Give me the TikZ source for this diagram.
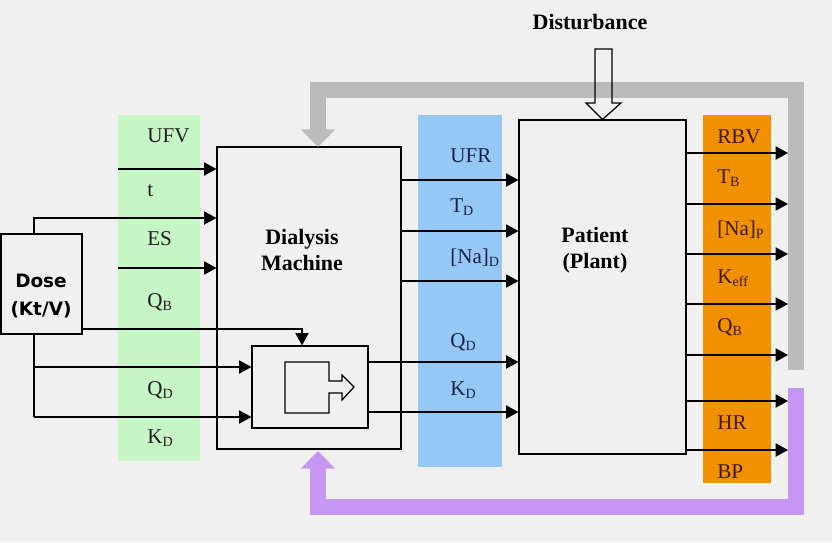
\documentclass[tikz,border=0pt]{standalone}
\usepackage{fontspec}
\setmainfont{Liberation Serif}
\newfontfamily\dosefont{DejaVu Sans}
\usepackage{tikz,xcolor}
\usetikzlibrary{calc}
\usetikzlibrary{arrows.meta}

\definecolor{bgcol}{HTML}{F0F0F0}
\definecolor{greenband}{HTML}{C6F5C6}
\definecolor{blueband}{HTML}{96C8F5}
\definecolor{orangeband}{HTML}{F29100}
\definecolor{graybar}{HTML}{BBBBBB}
\definecolor{purplebar}{HTML}{C597F2}
\definecolor{greentext}{HTML}{1E1E1E}
\definecolor{bluetext}{HTML}{17224A}
\definecolor{orangetext}{HTML}{401800}

% lowered subscript
\newcommand{\lsub}[1]{\raisebox{-2pt}{\fontsize{8}{9}\selectfont #1}}

\begin{document}
\begin{tikzpicture}[x=0.02cm, y=-0.02cm]
	% Define styles
	\tikzstyle{box}=[draw, line width=0.7pt, fill=bgcol, inner sep=0pt]
	\tikzstyle{band}=[inner sep=0pt]
	\tikzstyle{sig}=[line width=0.7pt, -{Triangle[length=7pt,width=7.5pt]}]
	\tikzstyle{feedback}=[line width=9pt, line join=miter, -{Triangle[length=10pt,width=19pt]}]
	\tikzstyle{lbl}=[anchor=base west, inner sep=0pt, font=\fontsize{12}{14}\selectfont]
	\tikzstyle{title}=[align=center, inner sep=0pt, font=\fontsize{12.5}{15}\selectfont\bfseries]
	
	\fill[bgcol] (0,0) rectangle (832,542);
	\useasboundingbox (0,0) rectangle (832,542);
	
	% coloured bands
	\node[band, fill=greenband, minimum width=1.64cm, minimum height=6.92cm] (inband) at (159,288) {};
	\node[band, fill=blueband, minimum width=1.68cm, minimum height=7.04cm] (midband) at (460,291) {};
	\node[band, fill=orangeband, minimum width=1.36cm, minimum height=7.36cm] (outband) at (737,299) {};
	
	% blocks
	\node[box, minimum width=3.68cm, minimum height=6.04cm] (machine) at (309,298) {};
	\node[box, minimum width=3.34cm, minimum height=6.68cm] (patient) at (602.5,287) {};
	\node[box, minimum width=1.62cm, minimum height=2cm] (dose) at (41.5,284) {};
	\node[box, minimum width=2.32cm, minimum height=1.64cm] (valve) at (310,387) {};
	
	\node[title] (machinetxt) at (302,250) {Dialysis\\Machine};
	\node[title] (patienttxt) at (595,250) {Patient\\(Plant)};
	\node[title] (disttxt) at (590,22) {Disturbance};
	\node[align=center, inner sep=0pt, font=\dosefont\bfseries\fontsize{10.5}{15.5}\selectfont] (dosetxt) at (41,296) {Dose\\(Kt/V)};
	
	% feedback loops
	\coordinate (gstart) at (796,370);
	\coordinate (gtip) at (318,147);
	\coordinate (pstart) at (796,388);
	\coordinate (ptip) at (318,451);
	\draw[feedback, graybar] (gstart) |- (318,90) -- (gtip);
	\draw[feedback, purplebar] (pstart) |- (318,507) -- (ptip);
	
	% disturbance
	\draw[line width=0.7pt] (595,49) -- (612,49) -- (612,103) -- (621,103) -- (patient.north) -- (586,103) -- (595,103) -- cycle;
	
	% valve symbol
	\draw[line width=0.7pt] (329,381) -- (329,362) -- (285,362) -- (285,413) -- (329,413) -- (329,393)
		-- (342,393) -- (342,400) -- (354,387) -- (342,375) -- (342,381) -- cycle;
	
	% labels
	\foreach \t/\y in {UFV/142, t/196, ES/245, Q\lsub{B}/307, Q\lsub{D}/395, K\lsub{D}/443}
		\node[lbl, text=greentext] at (147,\y) {\t};
	\foreach \t/\y in {UFR/162, T\lsub{D}/212, [Na]\lsub{D}/263, Q\lsub{D}/347, K\lsub{D}/395}
		\node[lbl, text=bluetext] at (450,\y) {\t};
	\foreach \t/\y in {RBV/143, T\lsub{B}/183, [Na]\lsub{P}/235, K\lsub{eff}/283, Q\lsub{B}/332, HR/429, BP/478}
		\node[lbl, text=orangetext] at (717,\y) {\t};
	
	% inputs to the machine
	\coordinate (in1) at (118,169);
	\coordinate (in3) at (118,268);
	\coordinate (dup) at (34,218);
	\draw[sig] (in1) -- (in1 -| machine.west);
	\draw[sig] (in3) -- (in3 -| machine.west);
	\draw[sig] (dose.north -| dup) |- (machine.west |- dup);
	
	% dose to the valve
	\coordinate (dset) at (302,329);
	\coordinate (dq) at (34,367);
	\coordinate (dk) at (34,417);
	\draw[sig] (dose.east |- dset) -| (valve.north -| dset);
	\draw[line width=0.7pt] (dose.south -| dk) -- (dk);
	\draw[sig] (dq) -- (valve.west |- dq);
	\draw[sig] (dk) -- (valve.west |- dk);
	
	% machine to patient
	\foreach \y in {180,231,281}
		\draw[sig] (machine.east |- 0,\y) -- (patient.west |- 0,\y);
	\foreach \y in {362,412}
		\draw[sig] (valve.east |- 0,\y) -- (patient.west |- 0,\y);
	
	% patient outputs
	\coordinate (outtip) at (788,0);
	\foreach \y in {153,204,254,304,355,401,450}
		\draw[sig] (patient.east |- 0,\y) -- (outtip |- 0,\y);
\end{tikzpicture}
\end{document}
